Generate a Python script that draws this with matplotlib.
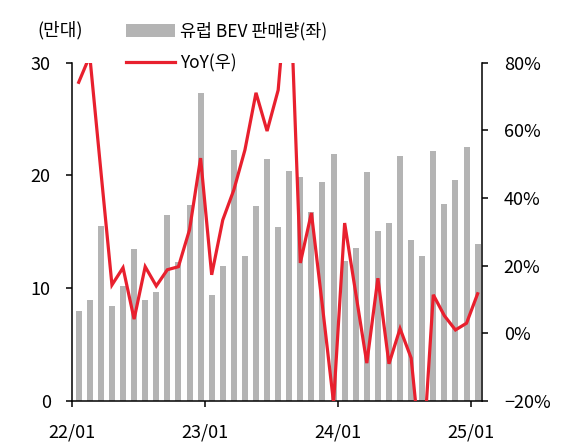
import numpy as np
import matplotlib.pyplot as plt
from matplotlib.patches import Patch
from matplotlib.lines import Line2D

plt.rcParams['font.family'] = ['Noto Sans CJK KR', 'DejaVu Sans']

# 월별 데이터 (22/01 ~ 25/01)
months = ['22/01', '22/02', '22/03', '22/04', '22/05', '22/06', '22/07', '22/08', '22/09', '22/10', '22/11', '22/12',
          '23/01', '23/02', '23/03', '23/04', '23/05', '23/06', '23/07', '23/08', '23/09', '23/10', '23/11', '23/12',
          '24/01', '24/02', '24/03', '24/04', '24/05', '24/06', '24/07', '24/08', '24/09', '24/10', '24/11', '24/12',
          '25/01']
bev_sales = [8.0, 9.0, 15.5, 8.4, 10.2, 13.5, 9.0, 9.7, 16.5, 12.3, 17.4, 27.3,
             9.4, 12.0, 22.3, 12.9, 17.3, 21.5, 15.4, 20.4, 19.9, 16.8, 19.4, 21.9,
             12.4, 13.6, 20.3, 15.1, 15.8, 21.7, 14.3, 12.9, 22.2, 17.5, 19.6, 22.5,
             13.9]
yoy = [74.2, 82.0, 48.0, 14.3, 19.4, 4.2, 19.7, 14.0, 18.8, 19.7, 30.6, 51.8,
       17.3, 33.5, 42.4, 54.2, 71.1, 59.8, 71.9, 110.0, 20.8, 35.6, 7.9, -20.5,
       32.6, 11.9, -8.8, 16.3, -9.0, 1.4, -7.3, -40.0, 11.4, 5.2, 1.0, 3.0, 11.7]

year_ticks = ['22/01', '23/01', '24/01', '25/01']
yoy_ticks = [-20, 0, 20, 40, 60, 80]

bar_color = '#b4b4b4'
line_color = '#e8202e'

x = np.arange(len(months))

fig = plt.figure(figsize=(5.7, 4.43), dpi=100)
ax1 = fig.add_axes([0.1268, 0.0948, 0.7193, 0.7637])
ax2 = ax1.twinx()

ax1.bar(x, bev_sales, width=0.54, color=bar_color, zorder=1)
ax2.plot(x, yoy, color=line_color, linewidth=2.3, solid_joinstyle='miter', zorder=3)

ax1.set_xlim(-0.58, 36.42)
ax1.set_ylim(0, 30)
ax1.set_yticks([0, 10, 20, 30])
ax2.set_ylim(-20, 80)
ax2.set_yticks(yoy_ticks)
ax2.set_yticklabels([f'{v}%'.replace('-', '\u2212') for v in yoy_ticks])

tick_pos = [months.index(m) - 0.58 for m in year_ticks]
ax1.set_xticks(tick_pos)
ax1.set_xticklabels(year_ticks)

for ax in (ax1, ax2):
    ax.spines['top'].set_visible(False)
    for s in ax.spines.values():
        s.set_linewidth(1.1)
    ax.tick_params(direction='out', length=4.5, width=1.1, labelsize=13, pad=11)
ax2.spines['left'].set_visible(False)
ax2.spines['bottom'].set_visible(False)
ax1.spines['right'].set_visible(False)
ax1.tick_params(axis='x', pad=12)

fig.text(60 / 570, 1 - 30 / 443, '(만대)', fontsize=13, ha='center', va='center')

handles = [Patch(facecolor=bar_color, edgecolor='none', label='유럽 BEV 판매량(좌)'),
           Line2D([], [], color=line_color, linewidth=2.3, label='YoY(우)')]
fig.legend(handles=handles, loc='upper left', bbox_to_anchor=(126 / 570, 1 - 22 / 443),
           frameon=False, fontsize=12.5, handlelength=2.8, handleheight=0.85,
           handletextpad=0.3, labelspacing=0.8, borderpad=0, borderaxespad=0)

fig.savefig('out.png', dpi=100)
